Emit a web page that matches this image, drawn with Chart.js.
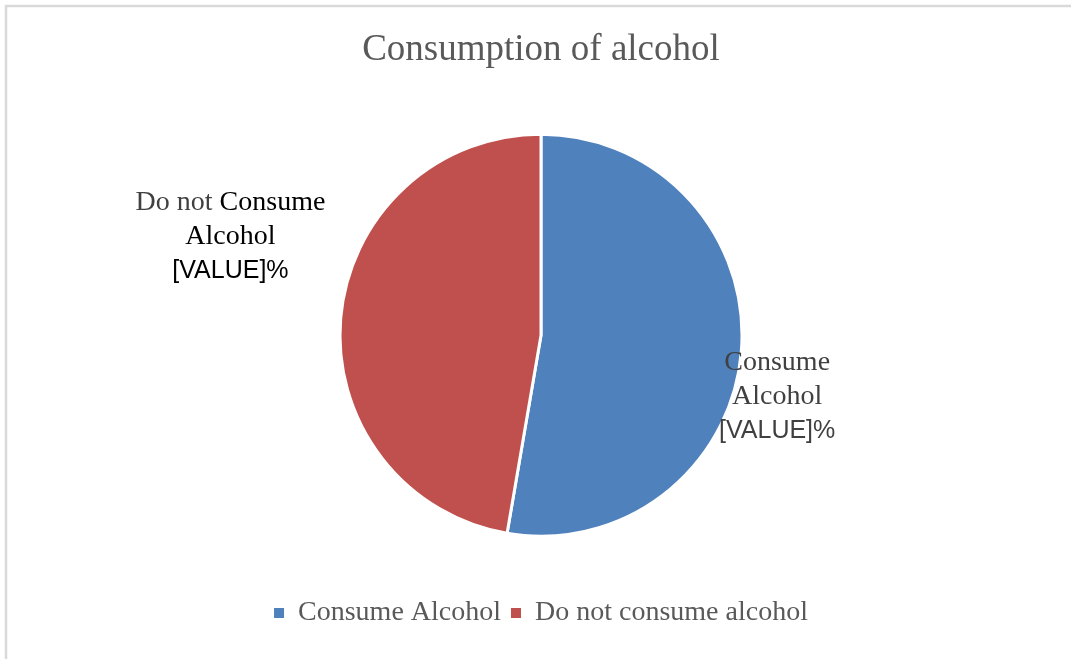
<!DOCTYPE html>
<html>
<head>
<meta charset="utf-8">
<script src="https://cdn.jsdelivr.net/npm/chart.js@4"></script>
<style>
  html, body { margin: 0; padding: 0; background: #fff; }
  #wrap { width: 1071px; height: 659px; }
</style>
</head>
<body>
<div id="wrap"><canvas id="alcoholChart" width="1071" height="659"></canvas></div>
<script>
const categories = ['Consume Alcohol', 'Do not consume alcohol'];
const shares = [52.7, 47.3];
const sliceColors = ['#4F81BD', '#C0504D'];
// data labels as shown on the slices (Excel placeholder text)
const labelLines = [
    ['Consume', 'Alcohol', '[VALUE]%'],
    ['Do not Consume', 'Alcohol', '[VALUE]%']
];

const serif = '"Liberation Serif", "Times New Roman", serif';
const sans = '"Liberation Sans", Arial, sans-serif';

// light frame, only top and left edges visible like the reference crop
const framePlugin = {
    id: 'frame',
    beforeDraw(chart) {
        const c = chart.ctx;
        c.save();
        c.strokeStyle = '#d9d9d9';
        c.lineWidth = 2.5;
        c.strokeRect(6, 6, chart.width + 20, chart.height + 20);
        c.restore();
    }
};

const sliceLabels = {
    id: 'sliceLabels',
    afterDatasetsDraw(chart, args, opts) {
        const c = chart.ctx;
        const meta = chart.getDatasetMeta(0);
        c.save();
        c.textAlign = 'center';
        c.textBaseline = 'middle';
        meta.data.forEach((arc, i) => {
            const r = arc.outerRadius;
            const off = opts.offsets[i];
            const cx = arc.x + off[0] * r;
            let cy = arc.y + off[1] * r;
            labelLines[i].forEach((line, j) => {
                const isValue = line.indexOf('[VALUE]') === 0;
                c.font = isValue ? '25px ' + sans : '28px ' + serif;
                if (i === 1 && j === 0) {
                    // "Do not" is grey, "Consume" is black
                    const a = 'Do not ', b = 'Consume';
                    const wa = c.measureText(a).width, wb = c.measureText(b).width;
                    const x0 = cx - (wa + wb) / 2;
                    c.textAlign = 'left';
                    c.fillStyle = '#404040';
                    c.fillText(a, x0, cy);
                    c.fillStyle = '#000000';
                    c.fillText(b, x0 + wa, cy);
                    c.textAlign = 'center';
                } else {
                    c.fillStyle = i === 1 ? '#000000' : '#404040';
                    c.fillText(line, cx, cy + (isValue ? 1 : 0));
                }
                cy += opts.lineGap;
            });
        });
        c.restore();
    }
};

new Chart(document.getElementById('alcoholChart'), {
    type: 'pie',
    data: {
        labels: categories,
        datasets: [{
            data: shares,
            backgroundColor: sliceColors,
            borderColor: '#ffffff',
            borderWidth: 3,
            radius: 201
        }]
    },
    options: {
        responsive: false,
        animation: false,
        layout: { padding: { left: 11, bottom: 22 } },
        plugins: {
            title: {
                display: true,
                text: 'Consumption of alcohol',
                color: '#595959',
                font: { family: serif, size: 37, weight: 'normal' },
                padding: { top: 28, bottom: 9 }
            },
            legend: {
                position: 'bottom',
                labels: {
                    color: '#595959',
                    font: { family: serif, size: 28 },
                    boxWidth: 10,
                    boxHeight: 10,
                    padding: 10,
                    generateLabels(chart) {
                        // plain squares, no white slice border on the legend box
                        return categories.map((name, i) => ({
                            text: name,
                            fillStyle: sliceColors[i],
                            strokeStyle: sliceColors[i],
                            lineWidth: 0,
                            fontColor: '#595959',
                            index: i
                        }));
                    }
                }
            },
            tooltip: { enabled: false },
            sliceLabels: {
                offsets: [[1.175, 0.135], [-1.545, -0.66]],
                lineGap: 34
            }
        }
    },
    plugins: [framePlugin, sliceLabels]
});
</script>
</body>
</html>
